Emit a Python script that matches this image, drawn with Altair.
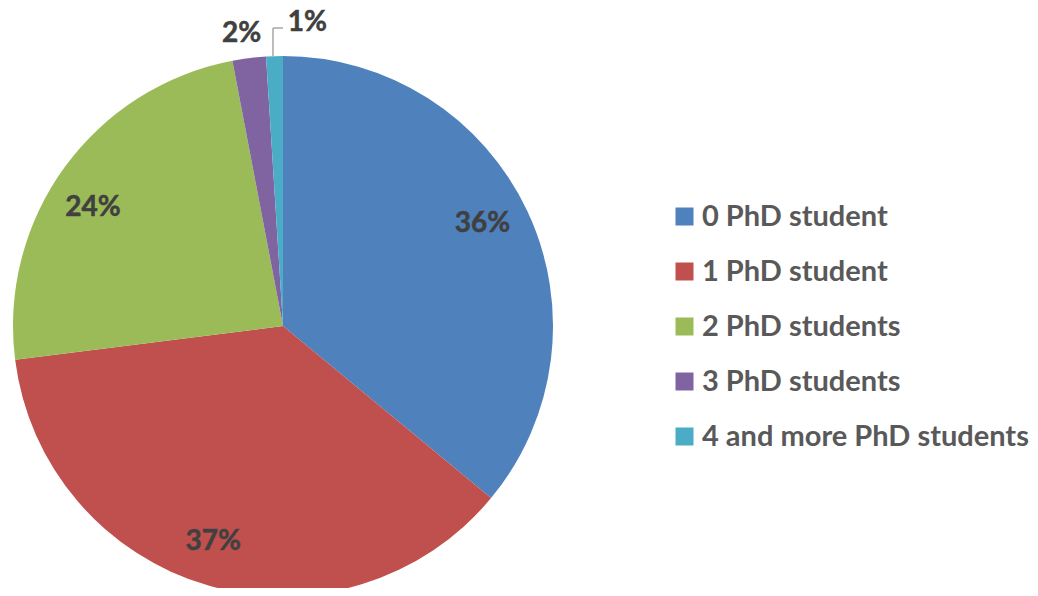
import altair as alt
import pandas as pd

categories = ["0 PhD student", "1 PhD student", "2 PhD students", "3 PhD students", "4 and more PhD students"]
values = [36, 37, 24, 2, 1]
labels = ["36%", "37%", "24%", "2%", "1%"]
colors = ["#4F81BD", "#C0504D", "#9BBB59", "#8064A2", "#4BACC6"]

df = pd.DataFrame({"category": categories, "value": values, "label": labels, "idx": list(range(len(values)))})

CX, CY = 275, 318
FONT = "Lato"
WEIGHT = "bold"

base = alt.Chart(df).encode(
    theta=alt.Theta("value:Q", stack=True),
    order=alt.Order("idx:Q"),
    x=alt.value(CX),
    y=alt.value(CY),
)

pie = base.mark_arc(outerRadius=270).encode(
    color=alt.Color(
        "category:N",
        scale=alt.Scale(domain=categories, range=colors),
        sort=categories,
        legend=alt.Legend(
            title=None,
            orient="none",
            legendX=662,
            legendY=194,
            symbolType="square",
            symbolSize=324,
            symbolStrokeWidth=0,
            labelFont=FONT,
            labelFontSize=29,
            labelFontWeight=WEIGHT,
            labelColor="#595959",
            labelOffset=3,
            rowPadding=25,
            padding=0,
            labelLimit=500,
        ),
    )
)


def label_layer(i, radius, dx, dy):
    return base.mark_text(
        radius=radius, dx=dx, dy=dy, font=FONT, fontSize=28, fontWeight=WEIGHT, color="#404040",
        stroke="#404040", strokeWidth=0.5,
    ).encode(text=alt.condition(f"datum.idx == {i}", "label:N", alt.value("")))


l0 = label_layer(0, 225, -4, -6)
l1 = label_layer(1, 225, -7, 0)
l2 = label_layer(2, 225, -8, 14)
l3 = label_layer(3, 299, -4, 5)
l4 = label_layer(4, 309, 34, 6)

lead_df = pd.DataFrame({"k": [0]})
lead_v = alt.Chart(lead_df).mark_rule(color="#A6A6A6", strokeWidth=1.5).encode(
    x=alt.value(265), y=alt.value(20), y2=alt.value(48)
)
lead_h = alt.Chart(lead_df).mark_rule(color="#A6A6A6", strokeWidth=1.5).encode(
    x=alt.value(265), x2=alt.value(275), y=alt.value(20)
)

chart = alt.layer(pie, l0, l1, l2, l3, l4, lead_v, lead_h).properties(
    width=1022, height=580, padding=0, autosize="none"
).configure_view(stroke=None)

chart.save("out.html", embed_options={"renderer": "svg", "actions": False})
